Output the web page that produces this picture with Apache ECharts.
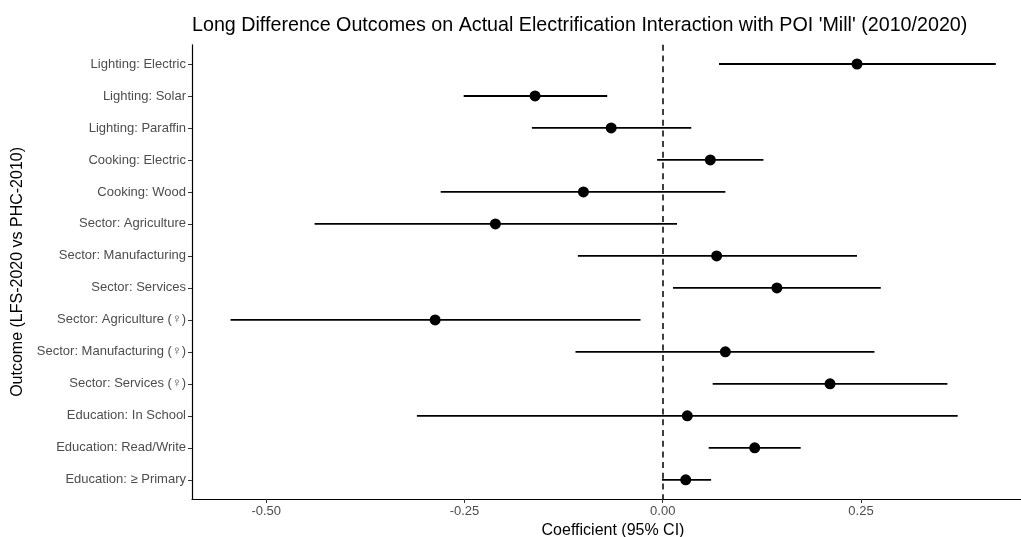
<!DOCTYPE html>
<html>
<head>
<meta charset="utf-8">
<script src="https://cdn.jsdelivr.net/npm/echarts@6/dist/echarts.min.js"></script>
<style>
html,body{margin:0;padding:0;background:#fff;}
#chart{width:1021px;height:537px;}
</style>
</head>
<body>
<div id="chart"></div>
<script>
const categories = [
  "Lighting: Electric", "Lighting: Solar", "Lighting: Paraffin",
  "Cooking: Electric", "Cooking: Wood",
  "Sector: Agriculture", "Sector: Manufacturing", "Sector: Services",
  "Sector: Agriculture (\u2640)", "Sector: Manufacturing (\u2640)", "Sector: Services (\u2640)",
  "Education: In School", "Education: Read/Write", "Education: \u2265 Primary"
];
const estimates = [0.245, -0.161, -0.065, 0.060, -0.100, -0.211, 0.068, 0.144, -0.287, 0.079, 0.211, 0.031, 0.116, 0.029];
const lower     = [0.071, -0.251, -0.165, -0.007, -0.280, -0.439, -0.107, 0.013, -0.545, -0.110, 0.063, -0.310, 0.058, -0.001];
const upper     = [0.420, -0.070, 0.036, 0.127, 0.079, 0.018, 0.245, 0.275, -0.028, 0.267, 0.359, 0.372, 0.174, 0.061];
const xTicks = [-0.5, -0.25, 0, 0.25];

const rowPos = categories.map((c, i) => i + 1);
const ciData = categories.map((c, i) => [lower[i], upper[i], rowPos[i]]);
const ptData = categories.map((c, i) => [estimates[i], rowPos[i]]);

const FONT = "Liberation Sans, Arial, Helvetica, sans-serif";
const chart = echarts.init(document.getElementById('chart'), null, {renderer: 'canvas'});
chart.setOption({
  animation: false,
  backgroundColor: '#fff',
  textStyle: {fontFamily: FONT},
  title: {
    text: "Long Difference Outcomes on Actual Electrification Interaction with POI 'Mill' (2010/2020)",
    left: 192, top: 16, padding: 0,
    textStyle: {fontFamily: FONT, fontSize: 19.7, fontWeight: 'normal', color: '#000'}
  },
  grid: {left: 192, right: -13, top: 44.8, bottom: 38, containLabel: false, outerBoundsMode: 'none'},
  xAxis: {
    type: 'value', min: -0.5936, max: 0.4682,
    name: 'Coefficient (95% CI)', nameLocation: 'middle', nameGap: 22,
    nameTextStyle: {fontFamily: FONT, fontSize: 16, color: '#000'},
    axisLine: {show: true, onZero: false, lineStyle: {color: '#000', width: 1.2}},
    axisTick: {show: true, length: 4, customValues: xTicks, lineStyle: {color: '#333', width: 1}},
    axisLabel: {customValues: xTicks, formatter: v => v.toFixed(2), fontSize: 13, color: '#4D4D4D', margin: 6, fontFamily: FONT},
    splitLine: {show: false}
  },
  yAxis: {
    type: 'value', min: 0.4, max: 14.6, inverse: true,
    name: 'Outcome (LFS-2020 vs PHC-2010)', nameLocation: 'middle', nameGap: 164, nameRotate: 90,
    nameTextStyle: {fontFamily: FONT, fontSize: 16, color: '#000'},
    axisLine: {show: true, onZero: false, lineStyle: {color: '#000', width: 1.2}},
    axisTick: {show: true, length: 4, customValues: rowPos, lineStyle: {color: '#333', width: 1}},
    axisLabel: {customValues: rowPos, formatter: v => categories[Math.round(v) - 1], fontSize: 13, color: '#4D4D4D', margin: 6, fontFamily: FONT},
    splitLine: {show: false}
  },
  series: [
    {
      type: 'custom',
      data: ciData,
      encode: {x: [0, 1], y: 2},
      z: 2,
      renderItem: function (params, api) {
        const y = api.value(2);
        const a = api.coord([api.value(0), y]);
        const b = api.coord([api.value(1), y]);
        return {type: 'line', shape: {x1: a[0], y1: a[1], x2: b[0], y2: b[1]}, style: {stroke: '#000', lineWidth: 1.8}};
      },
      markLine: {
        silent: true, symbol: 'none', animation: false,
        label: {show: false},
        lineStyle: {type: [6, 4.7], color: '#000', width: 1.5},
        data: [{xAxis: 0}]
      }
    },
    {
      type: 'scatter',
      data: ptData,
      symbol: 'circle', symbolSize: 11, z: 3,
      itemStyle: {color: '#000', opacity: 1}
    }
  ]
});
</script>
</body>
</html>
